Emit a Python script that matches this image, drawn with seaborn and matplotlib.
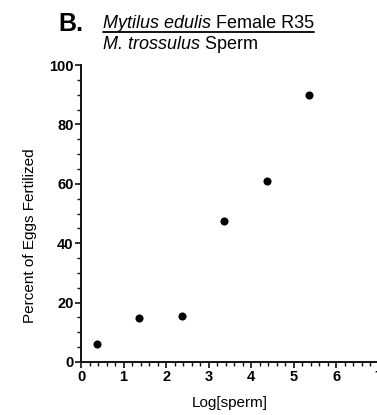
import matplotlib
matplotlib.use("Agg")
import matplotlib.pyplot as plt
from matplotlib.ticker import MultipleLocator
from matplotlib.lines import Line2D
import seaborn as sns
import pandas as pd

# Fertilization data: log sperm concentration vs. percent of eggs fertilized
log_sperm = [0.38, 1.37, 2.37, 3.37, 4.37, 5.36]
pct_fertilized = [6.0, 14.9, 15.5, 47.5, 61.0, 90.0]

x_ticks = [0, 1, 2, 3, 4, 5, 6, 7]
y_ticks = [0, 20, 40, 60, 80, 100]

sns.set_style("ticks")
plt.rcParams["font.family"] = ["Liberation Sans", "DejaVu Sans"]
plt.rcParams["text.color"] = "black"
plt.rcParams["axes.labelcolor"] = "black"
plt.rcParams["xtick.color"] = "black"
plt.rcParams["ytick.color"] = "black"

df = pd.DataFrame({"log_sperm": log_sperm, "pct": pct_fertilized})

fig = plt.figure(figsize=(3.77, 4.15), dpi=100)
ax = fig.add_axes([0.215, 0.128, 0.79, 0.715])

sns.scatterplot(data=df, x="log_sperm", y="pct", ax=ax, color="black",
                s=34, edgecolor="black", linewidth=0, legend=False, clip_on=False)

ax.set_xlim(0, 7)
ax.set_ylim(0, 100)
ax.set_xticks(x_ticks)
ax.set_yticks(y_ticks)
ax.xaxis.set_minor_locator(MultipleLocator(0.2))
ax.yaxis.set_minor_locator(MultipleLocator(5))

for side in ("top", "right"):
    ax.spines[side].set_visible(False)
for side in ("left", "bottom"):
    ax.spines[side].set_linewidth(1.4)
    ax.spines[side].set_color("#111111")

ax.tick_params(axis="both", which="major", direction="out", length=4.5,
               width=1.2, color="#111111", labelsize=10.5, pad=1)
ax.tick_params(axis="both", which="minor", direction="out", length=3,
               width=1.0, color="#111111")
for lbl in ax.get_xticklabels() + ax.get_yticklabels():
    lbl.set_fontweight("bold")

ax.set_xlabel("Log[sperm]", fontsize=11, labelpad=9)
ax.set_ylabel("Percent of Eggs Fertilized", fontsize=11)
ax.yaxis.set_label_coords(-0.148, 0.424)

# Panel letter and two-line title with underlined first line
fig.text(0.154, 0.925, "B.", fontsize=18, fontweight="bold", ha="left", va="baseline")
x0 = 0.273
y1 = 0.9325
t1 = fig.text(x0, y1, "Mytilus edulis", fontsize=13, fontstyle="italic",
              ha="left", va="baseline")
fig.canvas.draw()
r = fig.canvas.get_renderer()
bb1 = t1.get_window_extent(r).transformed(fig.transFigure.inverted())
t2 = fig.text(bb1.x1, y1, " Female R35", fontsize=13, ha="left", va="baseline")
fig.canvas.draw()
bb2 = t2.get_window_extent(r).transformed(fig.transFigure.inverted())
fig.add_artist(Line2D([x0, bb2.x1], [y1 - 0.0085, y1 - 0.0085],
                      transform=fig.transFigure, color="black", linewidth=1.3))

y2 = 0.882
t3 = fig.text(x0, y2, "M. trossulus", fontsize=13, fontstyle="italic",
              ha="left", va="baseline")
fig.canvas.draw()
bb3 = t3.get_window_extent(r).transformed(fig.transFigure.inverted())
fig.text(bb3.x1, y2, " Sperm", fontsize=13, ha="left", va="baseline")

fig.savefig("out.png", dpi=100)
